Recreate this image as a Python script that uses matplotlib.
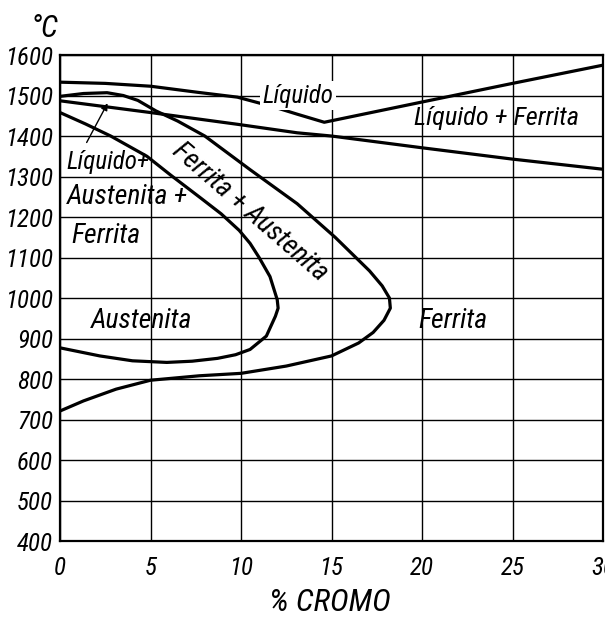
"""Diagrama Fe-Cr (lazo gamma), redibujado a partir de la figura escaneada."""
import matplotlib
matplotlib.use("Agg")
import matplotlib.pyplot as plt

plt.rcParams["font.family"] = ["Roboto Condensed", "DejaVu Sans"]
plt.rcParams["font.style"] = "italic"

# liquidus (upper line, minimum near 15 % Cr)
liq_x = [0, 2.5, 5, 7.6, 9.8, 11.8, 13.1, 14.6, 20, 25, 30]
liq_T = [1533, 1530, 1523, 1508, 1496, 1472, 1454, 1434, 1484, 1530, 1575]
# solidus (lower line of liquido + ferrita)
sol_x = [0, 5, 9.8, 13.1, 15, 20, 25, 30]
sol_T = [1487, 1458, 1429, 1408, 1400, 1371, 1343, 1318]
# outer loop: ferrita / ferrita + austenita
out_x = [0, 1.3, 2.6, 3.5, 4.3, 5.3, 6.5, 8.0, 10.5, 13.1, 15.2, 17.1, 17.8, 18.2,
         18.25, 17.9, 17.3, 16.5, 15.0, 12.5, 10.0, 7.7, 5.0, 3.1, 1.3, 0]
out_T = [1498, 1505, 1507, 1500, 1488, 1462, 1437, 1400, 1317, 1233, 1150, 1067, 1030, 1000,
         975, 945, 915, 889, 857, 832, 814, 808, 797, 775, 746, 721]
# inner loop: austenita / austenita + ferrita
in_x = [0, 1.4, 2.8, 4.8, 6.1, 7.8, 8.9, 9.9, 10.5, 11.0, 11.6, 12.0, 12.05, 11.9, 11.4,
        10.5, 9.7, 8.7, 7.3, 5.9, 4.0, 2.2, 0]
in_T = [1458, 1430, 1400, 1350, 1304, 1246, 1208, 1167, 1135, 1100, 1053, 996, 975, 955, 906,
        873, 860, 851, 844, 841, 845, 857, 877]

xticks = [0, 5, 10, 15, 20, 25, 30]
yticks = list(range(400, 1601, 100))

fig = plt.figure(figsize=(6.05, 6.24), dpi=100)
ax = fig.add_axes([0.0992, 0.133, 0.8975, 0.7788])
ax.set_xlim(0, 30)
ax.set_ylim(400, 1600)
ax.set_xticks(xticks)
ax.set_xticklabels(["0", "5", "10", "15", "20", "25", "30"])
ax.set_yticks(yticks)
ax.tick_params(length=0, labelsize=18, pad=5)
ax.tick_params(axis="x", pad=11)
ax.grid(color="k", lw=1.0)
for s in ax.spines.values():
    s.set_linewidth(1.6)

kw = dict(color="k", lw=2.3, solid_joinstyle="round", solid_capstyle="round", zorder=3)
ax.plot(liq_x, liq_T, **kw)
ax.plot(sol_x, sol_T, **kw)
ax.plot(out_x, out_T, **kw)
ax.plot(in_x, in_T, **kw)

lab = dict(fontsize=20, zorder=4)
ax.text(13.15, 1500, "Líquido", ha="center", va="center",
        bbox=dict(fc="white", ec="none", pad=2), fontsize=18, zorder=4)
ax.text(24.1, 1444, "Líquido + Ferrita", ha="center", va="center", fontsize=19, zorder=4)
ax.text(0.35, 1336, "Líquido+", ha="left", va="center", fontsize=18, zorder=4)
ax.text(0.4, 1250, "Austenita +", ha="left", va="center", **lab)
ax.text(0.6, 1153, "Ferrita", ha="left", va="center", **lab)
ax.text(10.5, 1212, "Ferrita + Austenita", ha="center", va="center", rotation=-41, **lab)
ax.text(4.5, 943, "Austenita", ha="center", va="center", **lab)
ax.text(21.7, 943, "Ferrita", ha="center", va="center", **lab)
ax.annotate("", xy=(2.7, 1487), xytext=(1.4, 1378),
            arrowprops=dict(arrowstyle="-|>", color="k", lw=1.0, mutation_scale=10))

fig.text(0.074, 0.955, "°C", ha="center", va="center", fontsize=22)
fig.text(0.545, 0.035, "% CROMO", ha="center", va="center", fontsize=23)

fig.savefig("out.png", dpi=100)
